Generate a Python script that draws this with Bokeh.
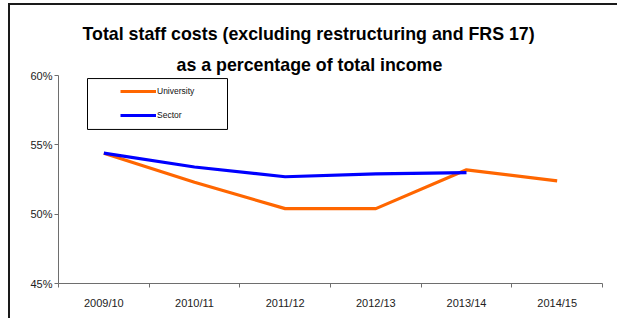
from bokeh.plotting import figure
from bokeh.models import (Range1d, FixedTicker, Legend, LegendItem, Title,
                          BoxAnnotation, ColumnDataSource)
from bokeh.embed import file_html
from bokeh.resources import INLINE

# Academic years and staff costs as % of total income
years = ["2009/10", "2010/11", "2011/12", "2012/13", "2013/14", "2014/15"]
university = [54.4, 52.3, 50.4, 50.4, 53.2, 52.4]
sector = [54.4, 53.4, 52.7, 52.9, 53.0]
y_ticks = [45, 50, 55, 60]

FONT = "Liberation Sans"

# category centres on a numeric axis, so ticks can sit on the boundaries
centres = [i + 0.5 for i in range(len(years))]
uni_src = ColumnDataSource(dict(x=centres, y=university))
sec_src = ColumnDataSource(dict(x=centres[:len(sector)], y=sector))

p = figure(width=609, height=315, output_backend="svg", toolbar_location=None,
           x_range=Range1d(0, len(years)), y_range=Range1d(y_ticks[0], y_ticks[-1]),
           min_border_left=48, min_border_right=17, min_border_top=70,
           min_border_bottom=37)
p.styles = {"margin-left": "8px", "margin-top": "3px",
            "border-left": "2px solid #1a1a1a", "border-top": "2px solid #1a1a1a"}
p.outline_line_color = None
p.grid.visible = False
p.background_fill_color = "white"
p.border_fill_color = "white"

# title, two lines (nearest the frame first)
for txt, off, gap in [("as a percentage of total income", 118, 2),
                      ("Total staff costs (excluding restructuring and FRS 17)", 24, 16)]:
    t = Title(text=txt, align="left", offset=off, text_font=FONT,
              text_font_size="17.8px", text_font_style="bold", text_color="black",
              standoff=gap)
    p.add_layout(t, "above")

# x axis: labels at centres, ticks at category boundaries
xa = p.xaxis[0]
xa.ticker = FixedTicker(ticks=centres, minor_ticks=list(range(len(years) + 1)))
xa.major_label_overrides = {c: y for c, y in zip(centres, years)}
xa.major_tick_out = 0
xa.major_tick_in = 0
xa.minor_tick_out = 4
xa.minor_tick_in = 0
xa.major_label_standoff = 9
xa.axis_line_color = "#6e6e6e"
xa.minor_tick_line_color = "#6e6e6e"
xa.major_label_text_font = FONT
xa.major_label_text_font_size = "11px"
xa.major_label_text_color = "#222222"

ya = p.yaxis[0]
ya.ticker = FixedTicker(ticks=y_ticks, minor_ticks=[])
ya.major_label_overrides = {v: f"{v}%" for v in y_ticks}
ya.major_tick_out = 4
ya.major_tick_in = 0
ya.minor_tick_out = 0
ya.minor_tick_in = 0
ya.major_label_standoff = 2
ya.axis_line_color = "#6e6e6e"
ya.major_tick_line_color = "#6e6e6e"
ya.major_label_text_font = FONT
ya.major_label_text_font_size = "11px"
ya.major_label_text_color = "#222222"

r_uni = p.line("x", "y", source=uni_src, line_color="#FF6600", line_width=3.2)
r_sec = p.line("x", "y", source=sec_src, line_color="#0000FF", line_width=3.2)

# legend frame
p.add_layout(BoxAnnotation(left=0.32, right=1.864, top=59.78, bottom=56.11,
                           fill_color="white", fill_alpha=1.0,
                           line_color="black", line_width=1, line_alpha=1.0))

legend = Legend(items=[LegendItem(label="University", renderers=[r_uni]),
                       LegendItem(label="Sector", renderers=[r_sec])],
                location=(56, 154), orientation="vertical",
                glyph_width=36, glyph_height=16, label_height=16,
                label_standoff=1, spacing=8, padding=6, margin=0,
                label_text_font=FONT, label_text_font_size="8.5px",
                label_text_color="#111111",
                border_line_alpha=0, background_fill_alpha=0)
p.add_layout(legend)

open("out.html", "w").write(file_html(p, INLINE))
